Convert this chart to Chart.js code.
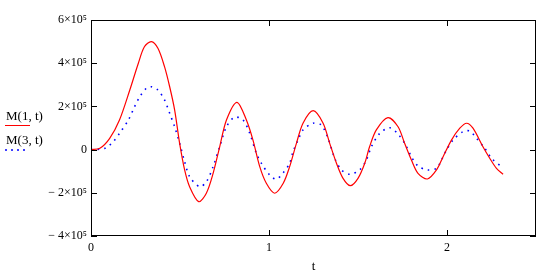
<!DOCTYPE html>
<html lang="en">
<head>
    <meta charset="UTF-8">
    <title>M(1,t) and M(3,t)</title>
    <script src="https://cdn.jsdelivr.net/npm/chart.js"></script>
    <style>
        body { margin: 0; background: #fff; }
        #wrap { width: 548px; height: 277px; }
    </style>
</head>
<body>
<div id="wrap"><canvas id="plot" width="548" height="277"></canvas></div>
<script>
// values
const tRed = [0, 0.05, 0.105, 0.16, 0.218, 0.266, 0.30, 0.339, 0.376, 0.413, 0.442, 0.47, 0.498, 0.526, 0.554, 0.605,
    0.648, 0.686, 0.723, 0.761, 0.82, 0.873, 0.91, 0.948, 0.985, 1.032, 1.08, 1.116, 1.154, 1.191, 1.248,
    1.304, 1.341, 1.379, 1.416, 1.457, 1.5, 1.538, 1.565, 1.603, 1.668, 1.725, 1.762, 1.80, 1.837, 1.89,
    1.941, 1.978, 2.025, 2.072, 2.11, 2.146, 2.202, 2.24, 2.278, 2.315];
const mRed = [0, 6000, 52000, 137000, 276000, 400000, 476000, 500000, 469000, 384000, 291000, 183000, 29000, -94000, -172000, -241000,
    -202000, -110000, 13000, 137000, 219000, 137000, 44000, -79000, -156000, -202000, -156000, -79000, 29000, 122000, 180000,
    122000, 29000, -63000, -133000, -167000, -133000, -63000, 13000, 91000, 148000, 106000, 29000, -48000, -110000, -136000,
    -94000, -33000, 44000, 99000, 122000, 99000, 13000, -40000, -87000, -114000];

const tBlue = [0, 0.079, 0.125, 0.16, 0.21, 0.245, 0.274, 0.311, 0.339, 0.376, 0.413, 0.442, 0.47, 0.498, 0.526, 0.554,
    0.61, 0.648, 0.686, 0.723, 0.761, 0.807, 0.854, 0.892, 0.929, 0.957, 1.004, 1.041, 1.08, 1.116, 1.135,
    1.163, 1.191, 1.248, 1.294, 1.332, 1.369, 1.407, 1.454, 1.51, 1.547, 1.575, 1.622, 1.678, 1.725, 1.766,
    1.80, 1.837, 1.89, 1.941, 1.969, 1.997, 2.034, 2.09, 2.128, 2.166, 2.212, 2.25, 2.302];
const mBlue = [0, 6000, 37000, 75000, 137000, 199000, 245000, 284000, 291000, 276000, 230000, 168000, 106000, 29000, -56000, -125000,
    -172000, -149000, -79000, 13000, 106000, 150000, 137000, 75000, -17000, -63000, -118000, -137000, -107000, -63000, -10000,
    44000, 91000, 122000, 114000, 52000, -40000, -94000, -114000, -94000, -48000, 13000, 75000, 101000, 72000, 24000,
    -33000, -76000, -94000, -87000, -48000, -2000, 44000, 83000, 86000, 52000, 6000, -40000, -76000];

const xTicks = [0, 1, 2];
const yTicks = [-400000, -200000, 0, 200000, 400000, 600000];
const legendNames = ["M(1, t)", "M(3, t)"];

const SERIF = "'Liberation Serif', 'Times New Roman', serif";

function yLabel(v) {
    if (v === 0) return "0";
    let n = Math.abs(v) / 100000;
    let s = n + "×10⁵";
    return v < 0 ? "− " + s : s;
}

// frame, inward ticks on every side, and the left-hand legend
const mathcadFrame = {
    id: "mathcadFrame",
    afterDraw(chart) {
        const ctx = chart.ctx;
        const a = chart.chartArea;
        const xs = chart.scales.x, ys = chart.scales.y;
        ctx.save();
        ctx.strokeStyle = "#000";
        ctx.lineWidth = 1;
        ctx.strokeRect(a.left + 0.5, a.top + 0.5, a.right - a.left - 1, a.bottom - a.top - 1);
        ctx.beginPath();
        xTicks.forEach(v => {
            let px = Math.round(xs.getPixelForValue(v)) + 0.5;
            ctx.moveTo(px, a.bottom); ctx.lineTo(px, a.bottom - 6);
            ctx.moveTo(px, a.top); ctx.lineTo(px, a.top + 6);
        });
        yTicks.forEach(v => {
            let py = Math.round(ys.getPixelForValue(v)) + 0.5;
            ctx.moveTo(a.left, py); ctx.lineTo(a.left + 6, py);
            ctx.moveTo(a.right, py); ctx.lineTo(a.right - 6, py);
        });
        ctx.stroke();

        // legend
        ctx.font = "13px " + SERIF;
        ctx.fillStyle = "#000";
        ctx.textBaseline = "alphabetic";
        ctx.fillText(legendNames[0], 6, 120);
        ctx.fillText(legendNames[1], 6, 144);
        ctx.strokeStyle = "#ff0000";
        ctx.beginPath();
        ctx.moveTo(5, 125.5); ctx.lineTo(30, 125.5);
        ctx.stroke();
        ctx.strokeStyle = "#0000ff";
        ctx.lineWidth = 1.5;
        ctx.setLineDash([2, 4]);
        ctx.beginPath();
        ctx.moveTo(5, 150); ctx.lineTo(27, 150);
        ctx.stroke();
        ctx.restore();
    }
};

new Chart(document.getElementById("plot"), {
    type: "line",
    data: {
        datasets: [{
            label: legendNames[0],
            data: tRed.map((t, i) => ({ x: t, y: mRed[i] })),
            borderColor: "#ff0000",
            borderWidth: 1.2,
            pointRadius: 0,
            tension: 0.3,
            fill: false
        }, {
            label: legendNames[1],
            data: tBlue.map((t, i) => ({ x: t, y: mBlue[i] })),
            borderColor: "#0000ff",
            borderWidth: 1.6,
            borderDash: [1.6, 5],
            pointRadius: 0,
            tension: 0.3,
            fill: false
        }]
    },
    options: {
        responsive: false,
        animation: false,
        layout: { padding: { top: 20, right: 12, left: 0, bottom: 0 } },
        plugins: { legend: { display: false }, tooltip: { enabled: false } },
        scales: {
            x: {
                type: "linear",
                min: 0,
                max: 2.5,
                afterBuildTicks: s => { s.ticks = xTicks.map(v => ({ value: v })); },
                afterFit: s => { s.height = 41; },
                grid: { display: false, drawTicks: false },
                border: { display: false },
                ticks: { padding: 5, color: "#000", font: { family: SERIF, size: 12 }, maxRotation: 0 },
                title: { display: true, text: "t", color: "#000", font: { family: SERIF, size: 13 }, padding: { top: 0, bottom: 3 } }
            },
            y: {
                min: -400000,
                max: 600000,
                afterBuildTicks: s => { s.ticks = yTicks.map(v => ({ value: v })); },
                afterFit: s => { s.width = 91; },
                grid: { display: false, drawTicks: false },
                border: { display: false },
                ticks: { padding: 4, color: "#000", font: { family: SERIF, size: 12 }, callback: v => yLabel(v) }
            }
        }
    },
    plugins: [mathcadFrame]
});
</script>
</body>
</html>
